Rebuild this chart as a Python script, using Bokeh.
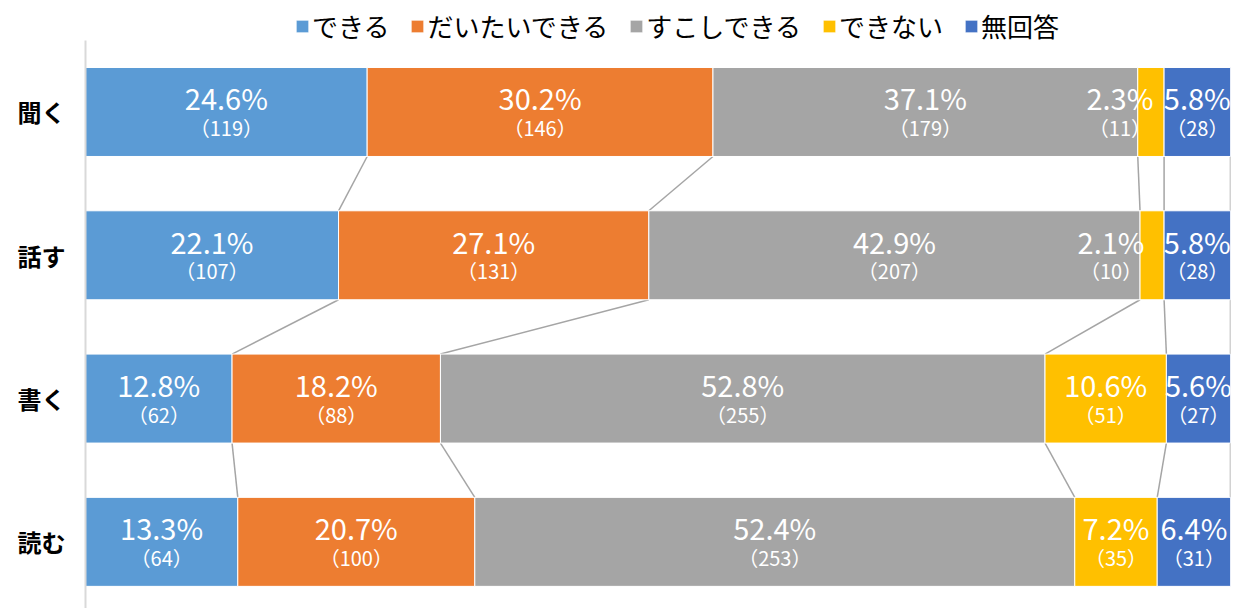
import numpy as np
from bokeh.plotting import figure
from bokeh.models import ColumnDataSource, Range1d, FixedTicker, Legend, LegendItem
from bokeh.core.properties import value
from bokeh.embed import file_html
from bokeh.resources import INLINE

# ---------------- data ----------------
categories = ["聞く", "話す", "書く", "読む"]
series_names = ["できる", "だいたいできる", "すこしできる", "できない", "無回答"]

dekiru_pct = [24.6, 22.1, 12.8, 13.3]
daitai_pct = [30.2, 27.1, 18.2, 20.7]
sukoshi_pct = [37.1, 42.9, 52.8, 52.4]
dekinai_pct = [2.3, 2.1, 10.6, 7.2]
mukaito_pct = [5.8, 5.8, 5.6, 6.4]

dekiru_n = [119, 107, 62, 64]
daitai_n = [146, 131, 88, 100]
sukoshi_n = [179, 207, 255, 253]
dekinai_n = [11, 10, 51, 35]
mukaito_n = [28, 28, 27, 31]

# ---------------- styles ----------------
colors = ["#5B9BD5", "#ED7D31", "#A5A5A5", "#FFC000", "#4472C4"]
FONT = "Noto Sans CJK JP"
BAR_H = 0.621
# per-label horizontal nudges (pixels), keyed by (category index, series index)
label_nudge = {(0, 3): -31, (1, 3): -41}

pcts = np.array([dekiru_pct, daitai_pct, sukoshi_pct, dekinai_pct, mukaito_pct])  # series x cat
counts = np.array([dekiru_n, daitai_n, sukoshi_n, dekinai_n, mukaito_n])
ncat = len(categories)
ypos = np.array([ncat - 1 - i for i in range(ncat)], dtype=float)  # 聞く at top
rights = np.cumsum(pcts, axis=0)
lefts = rights - pcts

p = figure(width=1233, height=608, output_backend="svg", toolbar_location=None,
           x_range=Range1d(0, 100), y_range=Range1d(-0.465, 3.778),
           min_border_left=85, min_border_right=3, min_border_top=0, min_border_bottom=0)
p.outline_line_color = None
p.xgrid.grid_line_color = None
p.ygrid.grid_line_color = None
p.xaxis.visible = False

p.yaxis.ticker = FixedTicker(ticks=list(ypos))
p.yaxis.bounds = (-0.465, 3.5)
p.yaxis.major_label_overrides = {float(y): c for y, c in zip(ypos, categories)}
p.yaxis.major_tick_line_color = None
p.yaxis.minor_tick_line_color = None
p.yaxis.axis_line_color = "#D9D9D9"
p.yaxis.axis_line_width = 2
p.yaxis.major_label_text_font = FONT
p.yaxis.major_label_text_font_size = "24px"
p.yaxis.major_label_text_font_style = "bold"
p.yaxis.major_label_text_color = "#000000"
p.yaxis.major_label_standoff = 14

# series lines
x0s, y0s, x1s, y1s = [], [], [], []
for i in range(ncat - 1):
    for k in range(len(series_names)):
        x0s.append(rights[k, i]); y0s.append(ypos[i] - BAR_H / 2)
        x1s.append(rights[k, i + 1]); y1s.append(ypos[i + 1] + BAR_H / 2)
p.segment(x0=x0s, y0=y0s, x1=x1s, y1=y1s, line_color="#A5A5A5", line_width=1.5)

items = []
for k, name in enumerate(series_names):
    src = ColumnDataSource(dict(y=ypos, left=lefts[k], right=rights[k]))
    r = p.hbar(y="y", left="left", right="right", height=BAR_H, source=src,
               fill_color=colors[k], line_color="#FFFFFF", line_width=1)
    items.append(LegendItem(label=name, renderers=[r]))

# labels
lx, ly, lp, lc, lo = [], [], [], [], []
for k in range(len(series_names)):
    for i in range(ncat):
        lx.append((lefts[k, i] + rights[k, i]) / 2)
        ly.append(ypos[i])
        lp.append(f"{pcts[k, i]:.1f}%")
        lc.append(f"（{counts[k, i]}）")
        lo.append(label_nudge.get((i, k), 0))
lsrc = ColumnDataSource(dict(x=lx, y=ly, p=lp, c=lc, o=lo))
p.text(x="x", y="y", text="p", source=lsrc, x_offset="o", y_offset=-14.5,
       text_align="center", text_baseline="middle", text_color="#FFFFFF",
       text_font=value(FONT), text_font_size="29px")
p.text(x="x", y="y", text="c", source=lsrc, x_offset="o", y_offset=15.5,
       text_align="center", text_baseline="middle", text_color="#FFFFFF",
       text_font=value(FONT), text_font_size="20px")

legend = Legend(items=items, orientation="horizontal", location=(208, 563),
                label_text_font=FONT, label_text_font_size="26px", label_text_color="#000000",
                glyph_width=16, glyph_height=16, label_standoff=2, spacing=20,
                padding=1, margin=0, border_line_alpha=0, background_fill_alpha=0)
p.add_layout(legend, "center")

open("out.html", "w").write(file_html(p, INLINE))
